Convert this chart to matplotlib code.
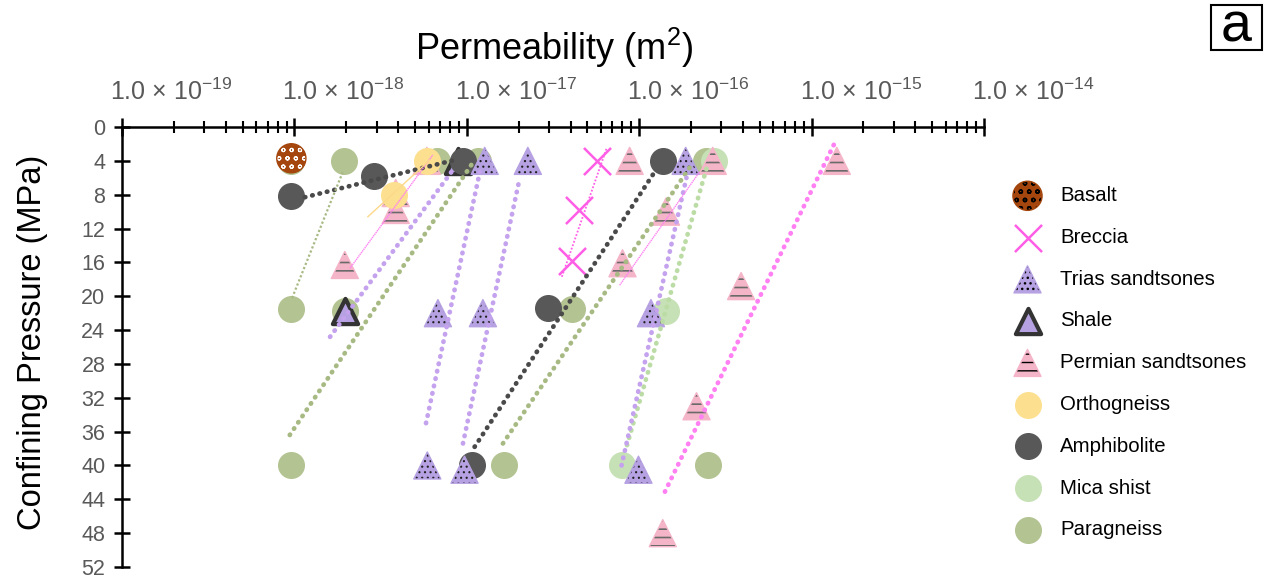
import matplotlib
matplotlib.use("Agg")
import matplotlib.pyplot as plt
import matplotlib.transforms as mtransforms
from matplotlib.patches import Rectangle
from matplotlib.ticker import FixedLocator, NullFormatter

plt.rcParams['font.family'] = ['Liberation Sans', 'DejaVu Sans']
plt.rcParams['mathtext.default'] = 'regular'

# permeability (m2) vs confining pressure (MPa)
basalt_k = [9.6e-19]
basalt_p = [3.7]

breccia_k = [5.7e-17, 4.5e-17, 4.1e-17]
breccia_p = [4, 9.8, 15.8]

trias_k = [1.27e-17, 2.26e-17, 1.86e-16, 6.8e-18, 1.24e-17, 1.17e-16, 5.9e-18, 9.7e-18, 9.9e-17]
trias_p = [4, 4, 4, 22, 22, 22, 40, 40.5, 40.5]

shale_k = [8.9e-18, 1.96e-18]
shale_p = [4, 21.7]

permian_k = [5.86e-18, 3.87e-18, 3.87e-18, 1.96e-18, 8.8e-17, 2.67e-16, 1.43e-16, 8.0e-17,
             1.4e-15, 3.9e-16, 2.15e-16, 1.37e-16]
permian_p = [4, 7.8, 9.8, 16.3, 4, 4, 10, 16.1, 4, 18.8, 33, 48]

ortho_k = [5.86e-18, 3.8e-18]
ortho_p = [4, 8]

amph_k = [9.6e-19, 2.9e-18, 9.5e-18, 1.37e-16, 2.95e-17, 1.07e-17]
amph_p = [8.2, 5.8, 4, 4, 21.4, 40]

mica_k = [2.7e-16, 1.43e-16, 8.0e-17]
mica_p = [4, 21.7, 40]

para_k = [9.6e-19, 1.94e-18, 6.7e-18, 1.16e-17, 2.45e-16, 9.6e-19, 1.96e-18, 4.06e-17,
          9.6e-19, 1.64e-17, 2.5e-16]
para_p = [4, 4, 4, 4, 4, 21.5, 21.7, 21.5, 40, 40, 40]

# trend lines: start/end (k, p) pairs
para_thin_k = [9.7e-19, 1.91e-18]
para_thin_p = [20.2, 5.3]
para_trend_k = [[9.4e-19, 1.11e-17], [1.62e-17, 1.96e-16]]
para_trend_p = [[36.4, 3.9], [37.4, 4.8]]
mica_trend_k = [8.5e-17, 2.49e-16]
mica_trend_p = [37.6, 4.5]
amph_trend_k = [[1.15e-18, 8.5e-18], [1.11e-17, 1.23e-16]]
amph_trend_p = [[8.3, 3.9], [37.8, 5.3]]
trias_trend_k = [[1.61e-18, 8.5e-18], [5.8e-18, 1.19e-17], [9.5e-18, 2.03e-17], [7.9e-17, 1.88e-16]]
trias_trend_p = [[24.8, 4.8], [35, 5.3], [37.4, 6.0], [40, 6.0]]
permian_trend_k = [1.41e-16, 1.36e-15]
permian_trend_p = [43.1, 1.9]
permian_thin_k = [[2.1e-18, 6.35e-18], [7.7e-17, 2.24e-16]]
permian_thin_p = [[16.7, 3.3], [18.7, 5.3]]
breccia_trend_k = [3.56e-17, 6.5e-17]
breccia_trend_p = [17.7, 2.4]
ortho_trend_k = [2.67e-18, 6.1e-18]
ortho_trend_p = [10.6, 3.9]

decades = [1e-19, 1e-18, 1e-17, 1e-16, 1e-15, 1e-14]
decade_exp = [-19, -18, -17, -16, -15, -14]
y_ticks = list(range(0, 53, 4))

W, H = 1267, 580
fig = plt.figure(figsize=(W / 100, H / 100), dpi=100)
ax = fig.add_axes([122 / W, 1 - 567 / H, 862 / W, 440 / H])

c_basalt = '#a4460e'
c_breccia = '#ff5ee6'
c_trias = '#b6a2e2'
c_permian = '#f5b5c9'
c_ortho = '#fde08f'
c_amph = '#585858'
c_mica = '#c7e1b6'
c_para = '#b3c391'

S = 340


def sc(k, p, color, marker='o', hatch=None, hcolor='black', s=S, hlw=1.2, **kw):
    with plt.rc_context({'hatch.color': hcolor, 'hatch.linewidth': hlw}):
        return ax.scatter(k, p, s=s, c=color, marker=marker, hatch=hatch, **kw)


h_para = sc(para_k, para_p, c_para, zorder=2)
h_mica = sc(mica_k, mica_p, c_mica, zorder=2)
h_perm = sc(permian_k, permian_p, c_permian, marker='^', hatch='--', hcolor='#6a6a6a', s=380, zorder=3)
h_ortho = sc(ortho_k, ortho_p, c_ortho, zorder=4)
h_shale = ax.scatter(shale_k, shale_p, s=330, marker='^', facecolor=c_trias, edgecolor='#333333',
                     linewidths=3, zorder=4)
h_amph = sc(amph_k, amph_p, c_amph, zorder=5)
h_basalt = sc(basalt_k, basalt_p, c_basalt, hatch='oo', hcolor='white', s=440, hlw=0.8, zorder=5)
h_trias = sc(trias_k, trias_p, c_trias, marker='^', hatch='...', hcolor='#202020', s=380, hlw=0.8,
             zorder=6)
h_brec = ax.scatter(breccia_k, breccia_p, s=380, marker='x', c=c_breccia, linewidths=1.8, zorder=6)

dot = dict(linestyle=(0, (0.1, 1.5)), dash_capstyle='round', linewidth=3.4, zorder=8)
for kk, pp in zip(para_trend_k, para_trend_p):
    ax.plot(kk, pp, color='#a8ba83', **dot)
ax.plot(mica_trend_k, mica_trend_p, color='#bcdca6', **dot)
for kk, pp in zip(amph_trend_k, amph_trend_p):
    ax.plot(kk, pp, color='#4a4a4a', **dot)
for kk, pp in zip(trias_trend_k, trias_trend_p):
    ax.plot(kk, pp, color='#c4a2ee', **dot)
ax.plot(permian_trend_k, permian_trend_p, color='#ff80f2', **dot)

ax.plot(para_thin_k, para_thin_p, color='#a8ba83', linestyle=(0, (1, 1)), linewidth=1.6, zorder=8)
for kk, pp in zip(permian_thin_k, permian_thin_p):
    ax.plot(kk, pp, color='#ff80f2', linestyle=(0, (1, 0.5)), linewidth=1.0, zorder=8)
ax.plot(breccia_trend_k, breccia_trend_p, color='#ff60e8', linestyle=(0, (1, 1)), linewidth=1.3, zorder=8)
ax.plot(ortho_trend_k, ortho_trend_p, color='#fcd98a', linewidth=1.0, zorder=8)

ax.set_xscale('log')
ax.set_xlim(1e-19, 1e-14)
ax.set_ylim(52, 0)

for side in ['right', 'bottom']:
    ax.spines[side].set_visible(False)
for side in ['left', 'top']:
    ax.spines[side].set_linewidth(1.8)
    ax.spines[side].set_color('black')

ax.xaxis.set_ticks_position('top')
ax.xaxis.set_major_locator(FixedLocator(decades))
ax.xaxis.set_minor_locator(FixedLocator([m * d for d in decades[:-1] for m in range(2, 10)]))
ax.xaxis.set_minor_formatter(NullFormatter())
ax.set_xticklabels(['1.0 × 10$^{-%d}$' % (-e) for e in decade_exp])
ax.tick_params(axis='x', which='major', direction='inout', length=13, width=1.8, pad=9,
               labelsize=18, labelcolor='#595959', colors='black')
ax.tick_params(axis='x', which='minor', direction='inout', length=9, width=1.5)
shift = mtransforms.ScaledTranslation(-12 / 100, 0, fig.dpi_scale_trans)
for lab in ax.get_xticklabels():
    lab.set_horizontalalignment('left')
    lab.set_transform(lab.get_transform() + shift)

ax.set_yticks(y_ticks)
ax.tick_params(axis='y', which='major', direction='inout', length=12, width=1.8, pad=6,
               labelsize=15.5, labelcolor='#595959')

fig.text(554 / W, 1 - 48 / H, 'Permeability (m$^{2}$)', ha='center', va='center', fontsize=26)
fig.text(33 / W, 1 - 342 / H, 'Confining Pressure (MPa)', ha='center', va='center',
         rotation=90, fontsize=23.5)

# panel letter
fig.patches.append(Rectangle((1211 / W, 1 - 50 / H), 51 / W, 45 / H, transform=fig.transFigure,
                             facecolor='white', edgecolor='black', linewidth=1.5))
fig.text(1236 / W, 1 - 42 / H, 'a', ha='center', va='baseline', fontsize=40)

handles = [h_basalt, h_brec, h_trias, h_shale, h_perm, h_ortho, h_amph, h_mica, h_para]
labels = ['Basalt', 'Breccia', 'Trias sandtsones', 'Shale', 'Permian sandtsones',
          'Orthogneiss', 'Amphibolite', 'Mica shist', 'Paragneiss']
fig.legend(handles, labels, loc='upper left', bbox_to_anchor=(1003 / W, 1 - 178 / H),
           frameon=False, fontsize=14.7, scatterpoints=1, markerscale=1.0,
           labelspacing=1.115, handletextpad=0.8, borderaxespad=0, handlelength=1.6)

fig.savefig('out.png', dpi=100)
